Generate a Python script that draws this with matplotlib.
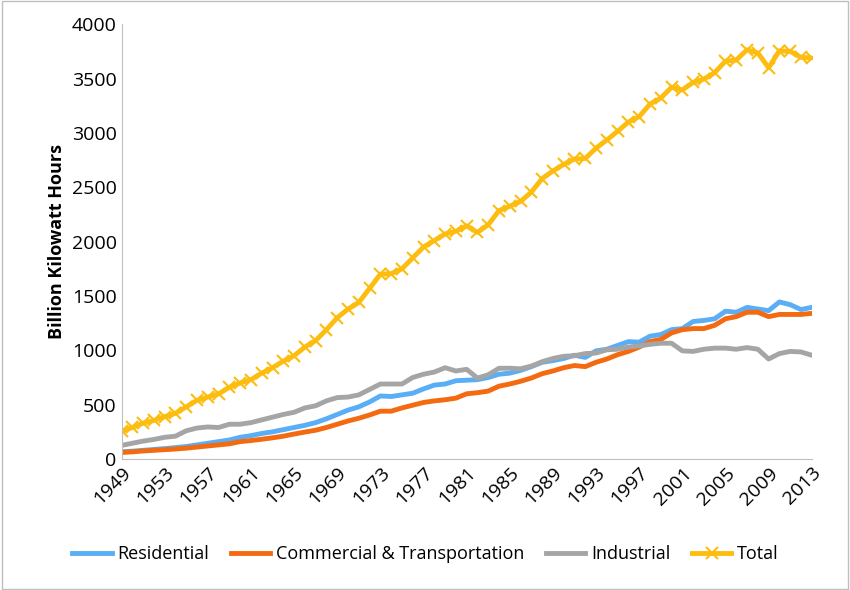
import numpy as np
import matplotlib
matplotlib.use("Agg")
import matplotlib.pyplot as plt

plt.rcParams["font.family"] = ["Open Sans", "DejaVu Sans"]

years = list(range(1949, 2014))
total = [255, 290, 330, 355, 390, 420, 480, 540, 570, 600, 660, 700, 730, 790, 840, 900,
         950, 1030, 1090, 1190, 1300, 1380, 1440, 1570, 1700, 1705, 1750, 1850, 1950, 2010,
         2070, 2095, 2145, 2085, 2155, 2285, 2325, 2370, 2455, 2580, 2650, 2710, 2760, 2765,
         2860, 2935, 3015, 3100, 3150, 3265, 3320, 3420, 3395, 3465, 3495, 3555, 3660, 3670,
         3765, 3735, 3600, 3755, 3750, 3695, 3690]
residential = [67, 72, 80, 88, 96, 105, 115, 130, 145, 160, 175, 200, 215, 235, 250, 270,
               290, 310, 335, 370, 410, 450, 480, 525, 580, 575, 590, 605, 645, 680, 690,
               720, 725, 730, 750, 780, 790, 815, 850, 890, 905, 925, 955, 935, 995, 1010,
               1045, 1080, 1075, 1130, 1145, 1190, 1200, 1265, 1275, 1290, 1360, 1350, 1395,
               1380, 1365, 1445, 1420, 1375, 1395]
commercial = [60, 66, 74, 80, 86, 92, 100, 110, 120, 130, 140, 160, 170, 182, 195, 210,
              230, 248, 265, 290, 320, 350, 375, 405, 440, 440, 470, 495, 520, 535, 545,
              560, 600, 610, 625, 670, 690, 715, 745, 785, 810, 840, 860, 850, 890, 920,
              960, 990, 1030, 1080, 1100, 1160, 1190, 1200, 1200, 1230, 1290, 1310, 1350,
              1350, 1310, 1330, 1330, 1330, 1340]
industrial = [125, 145, 165, 180, 200, 210, 260, 285, 295, 290, 320, 320, 335, 360, 385, 410,
              430, 470, 490, 535, 565, 570, 590, 640, 690, 690, 690, 750, 780, 800, 840,
              810, 825, 745, 775, 835, 835, 830, 855, 895, 925, 945, 950, 970, 975, 1005,
              1010, 1030, 1040, 1055, 1065, 1065, 995, 990, 1010, 1020, 1020, 1010, 1025,
              1010, 920, 970, 990, 985, 955]

fig = plt.figure(figsize=(8.5, 5.9), dpi=100)
ax = fig.add_axes([0.143, 0.222, 0.812, 0.737])
fig.patches.append(plt.Rectangle((0.002, 0.002), 0.996, 0.996, transform=fig.transFigure,
                                 fill=False, edgecolor="#bfbfbf", lw=1))

ax.plot(years, residential, color="#5aaef5", lw=3.5, label="Residential")
ax.plot(years, commercial, color="#f46a10", lw=3.5, label="Commercial & Transportation")
ax.plot(years, industrial, color="#a5a5a5", lw=3.5, label="Industrial")
ax.plot(years, total, color="#fdbd10", lw=3.5, marker="x", ms=9, mew=1.5, label="Total")

ax.set_xlim(1949, 2013)
ax.set_ylim(0, 4000)
ax.set_yticks(range(0, 4001, 500))
ax.set_xticks(range(1949, 2014, 4))
ax.tick_params(axis="both", labelsize=14, length=0)
plt.setp(ax.get_xticklabels(), rotation=45, ha="right", rotation_mode="anchor")
ax.set_ylabel("Billion Kilowatt Hours", fontsize=13, fontweight="bold")
for s in ["top", "right"]:
    ax.spines[s].set_visible(False)
for s in ["left", "bottom"]:
    ax.spines[s].set_color("#bfbfbf")

ax.legend(loc="upper center", bbox_to_anchor=(0.44, -0.16), ncol=4, frameon=False,
          fontsize=13, handlelength=2.2, columnspacing=1.2, handletextpad=0.3)

fig.savefig("out.png", facecolor="white")
